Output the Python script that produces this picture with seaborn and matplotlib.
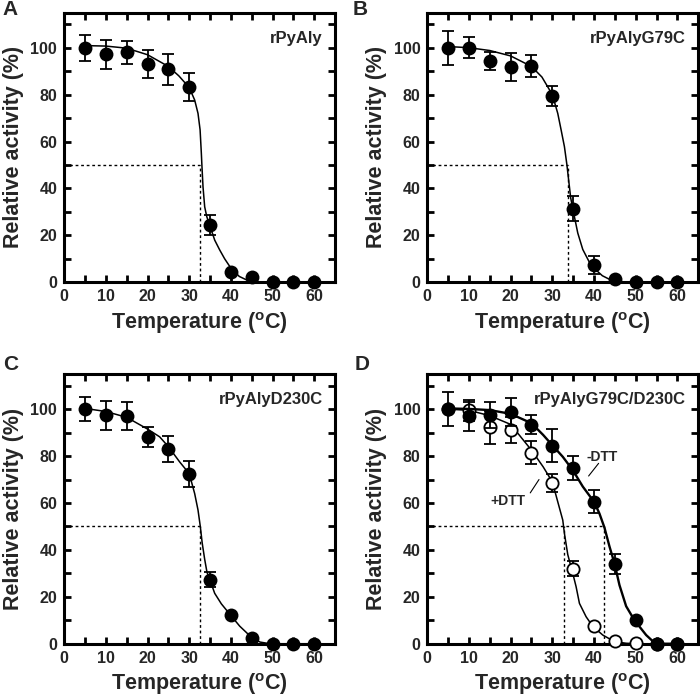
import numpy as np
import matplotlib
matplotlib.use("Agg")
import matplotlib.pyplot as plt
from matplotlib.ticker import MultipleLocator
import seaborn as sns

# measured points (temperature, relative activity, error)
temps = [5, 10, 15, 20, 25, 30, 35, 40, 45, 50, 55, 60]

a_act = [100, 97.2, 98, 93, 90.9, 83.1, 24.3, 4.3, 2.4, 0, 0, 0]
a_err = [5.5, 6.3, 4.8, 6, 6.6, 6, 4.3, 0, 0, 0, 0, 0]

b_act = [100, 100, 94.3, 91.9, 92.2, 79.4, 31.4, 7.4, 1.3, 0, 0, 0]
b_err = [7.3, 4.4, 3.9, 6, 4.7, 4.3, 5.4, 4, 0, 0, 0, 0]

c_act = [100, 97.3, 97.2, 88.1, 83.1, 72.3, 27.3, 12.4, 2.4, 0, 0, 0]
c_err = [5, 6, 6, 4.4, 5.5, 5.4, 3.2, 0, 0, 0, 0, 0]

d_minus_act = [100, 97, 97.5, 98.9, 93.4, 84.5, 74.9, 60.6, 34, 10, 0, 0]
d_minus_err = [7.1, 6.2, 5.5, 6, 4, 7, 5, 5, 4.4, 0, 0, 0]
d_plus_act = [100, 99.5, 92.2, 91.1, 81.5, 68.5, 32, 7.4, 1, 0.3, 0, 0]
d_plus_err = [0, 4.5, 7, 5.7, 5, 4, 3.3, 0, 0, 0, 0, 0]

# fitted curves
a_fit_t = [5, 10, 15, 20, 25, 27.5, 30, 31.3, 32.1, 32.6, 32.9, 33.05, 33.3, 33.7,
           34.2, 34.9, 36.1, 37.3, 38.5, 40, 42, 44, 46, 60]
a_fit_y = [100.9, 100.7, 99.8, 97, 92, 88, 83, 77.7, 72, 65, 55, 49.3, 40.7, 32.2,
           28, 24.4, 18, 13.8, 10, 6, 2.5, 0.8, 0.1, 0]

b_fit_t = [5, 10, 15, 20, 25, 27.5, 30, 31.3, 32.1, 32.9, 33.5, 34.0, 34.4, 35,
           36.1, 37.3, 38.9, 40, 42, 44, 46, 48, 60]
b_fit_y = [100.5, 100, 98.8, 96.5, 92, 87.5, 80, 72, 65, 57.8, 50, 42.2, 36, 30.5,
           21, 14, 8.5, 6, 2.8, 1, 0.2, 0, 0]

c_fit_t = [5, 10, 15, 20, 22.9, 25, 27.7, 30, 31.3, 32.1, 32.65, 33.1, 33.7, 34.25,
           35, 36.1, 37.7, 40, 42.1, 45, 47, 49, 50, 60]
c_fit_y = [100.3, 99, 96.5, 91.5, 88.2, 84, 77.5, 72.5, 64, 57, 50, 43, 36, 30.5,
           27, 21.5, 17, 12, 7.5, 2.6, 0.7, 0.1, 0, 0]

d_minus_fit_t = [5, 10, 15, 20, 25, 27.8, 30, 32.5, 34.9, 37.3, 40, 41.3, 42.5, 43.7,
                 44.9, 46.1, 47.7, 49.7, 52.5, 54.5, 56, 60]
d_minus_fit_y = [100.3, 100.1, 99.6, 98, 94, 89, 84.6, 79.7, 74, 67, 60.5, 55.5, 49.5, 41.5,
                 34.3, 25, 16, 10, 3.7, 0.4, 0, 0]

d_plus_fit_t = [5, 10, 15, 20, 25, 27.8, 30, 31.3, 32.5, 32.9, 33.7, 34.9, 35.7, 36.5,
                38.1, 39.7, 42.1, 44.9, 47.7, 50]
d_plus_fit_y = [100, 99.5, 97.2, 93.5, 82.5, 75.4, 69, 60.5, 52.7, 47, 38, 30, 24.3, 17.2,
                11.5, 7.4, 3.7, 0.9, 0.2, 0]

# half-inactivation temperatures (dotted guides)
tm_a = [32.5]
tm_b = [33.7]
tm_c = [32.5]
tm_d = [32.7, 42.5]

sns.set_theme(style="ticks")
plt.rcParams["font.family"] = ["Liberation Sans", "DejaVu Sans"]
plt.rcParams["font.weight"] = "bold"
plt.rcParams["mathtext.fontset"] = "custom"
plt.rcParams["mathtext.default"] = "bf"
plt.rcParams["mathtext.bf"] = "Liberation Sans:bold"
plt.rcParams["mathtext.rm"] = "Liberation Sans:bold"

fig = plt.figure(figsize=(7, 6.96), dpi=100)
w, h = 0.3871, 0.3876
axA = fig.add_axes([0.0917, 0.5944, w, h])
axB = fig.add_axes([0.6104, 0.5944, w, h])
axC = fig.add_axes([0.0917, 0.0751, w, h])
axD = fig.add_axes([0.6104, 0.0751, w, h])


def style_axis(ax, name):
    ax.set_xlim(0, 65)
    ax.set_ylim(0, 115)
    ax.xaxis.set_major_locator(MultipleLocator(10))
    ax.xaxis.set_minor_locator(MultipleLocator(5))
    ax.yaxis.set_major_locator(MultipleLocator(20))
    ax.yaxis.set_minor_locator(MultipleLocator(10))
    ax.tick_params(which="both", direction="in", top=True, right=True,
                   width=2, length=5, color="black")
    ax.tick_params(which="major", labelsize=11.5, pad=5)
    for s in ax.spines.values():
        s.set_linewidth(2.2)
        s.set_color("black")
    ax.set_xlabel(r"Temperature ($^{o}$C)", fontsize=15.5, fontweight="bold", labelpad=4)
    ax.set_ylabel("Relative activity (%)", fontsize=15.5, fontweight="bold", labelpad=5)
    ax.text(0.955, 0.905, name, transform=ax.transAxes, ha="right", va="center",
            fontsize=12, fontweight="bold")


def draw_series(ax, act, err, fit_t, fit_y, filled=True, lw=1.1, z=3):
    ax.plot(fit_t, fit_y, color="black", lw=lw, zorder=z)
    t = np.array(temps)
    e = np.array(err)
    m = e > 0
    ax.errorbar(t[m], np.array(act)[m], yerr=e[m], fmt="none", ecolor="black",
                elinewidth=1.3, capsize=4.6, capthick=1.3, zorder=z + 1)
    sns.scatterplot(x=temps, y=act, ax=ax, s=100 if filled else 78,
                    color="black" if filled else "white", edgecolor="black",
                    linewidth=0 if filled else 1.3, zorder=z + 2, clip_on=False)


def dotted(ax, tms):
    ax.hlines(50, 0, max(tms), colors="black", linestyles=(0, (2, 2)), lw=1.0, zorder=2)
    for tm in tms:
        ax.vlines(tm, 0, 50, colors="black", linestyles=(0, (2, 2)), lw=1.0, zorder=2)


style_axis(axA, "rPyAly")
dotted(axA, tm_a)
draw_series(axA, a_act, a_err, a_fit_t, a_fit_y)

style_axis(axB, "rPyAlyG79C")
dotted(axB, tm_b)
draw_series(axB, b_act, b_err, b_fit_t, b_fit_y)

style_axis(axC, "rPyAlyD230C")
dotted(axC, tm_c)
draw_series(axC, c_act, c_err, c_fit_t, c_fit_y)

style_axis(axD, "rPyAlyG79C/D230C")
dotted(axD, tm_d)
draw_series(axD, d_plus_act, d_plus_err, d_plus_fit_t, d_plus_fit_y, filled=False, lw=1.1, z=3)
draw_series(axD, d_minus_act, d_minus_err, d_minus_fit_t, d_minus_fit_y, filled=True, lw=1.7, z=6)
axD.text(41.9, 79.7, "-DTT", ha="center", va="center", fontsize=10, fontweight="bold")
axD.plot([38.7, 41.1], [71.5, 76.9], color="black", lw=0.8)
axD.text(19.4, 60.8, "+DTT", ha="center", va="center", fontsize=10, fontweight="bold")
axD.plot([24.7, 26.8], [64.3, 70], color="black", lw=0.8)

for label, x, y in [("A", 0.003, 1.0), ("B", 0.504, 1.0), ("C", 0.004, 0.49), ("D", 0.507, 0.49)]:
    fig.text(x, y, label, ha="left", va="top", fontsize=15, fontweight="bold")

fig.savefig("out.png", dpi=100)
